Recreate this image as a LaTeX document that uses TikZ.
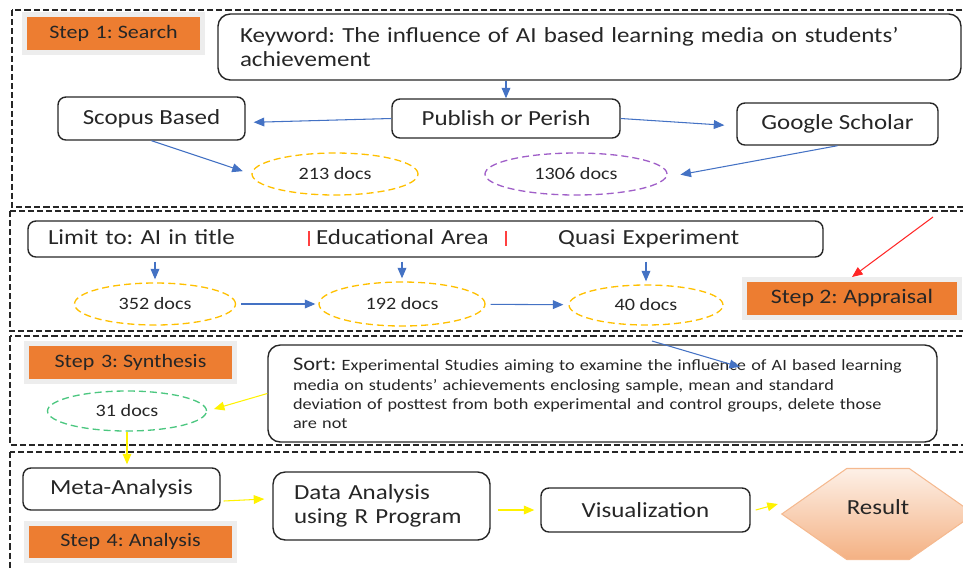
\documentclass[tikz,border=0pt]{standalone}
\usepackage{fontspec}
\setmainfont{Carlito}[FakeStretch=1.16]
\usetikzlibrary{shapes,shapes.symbols,arrows.meta,positioning,shadows}
\newlength\px
\setlength\px{0.02cm}
\definecolor{stepOrange}{HTML}{ED7D31}
\definecolor{arrowBlue}{HTML}{4472C4}
\definecolor{docGold}{HTML}{FFC000}
\definecolor{docPurple}{HTML}{A05FC8}
\definecolor{docGreen}{HTML}{4CC780}
\definecolor{resTop}{HTML}{FDF0E7}
\definecolor{resBot}{HTML}{F4B183}
\definecolor{shadowTan}{HTML}{C9A58C}
\newcommand{\redbar}{\textcolor{red!75}{\rule[-0.5pt]{1.2pt}{8.5pt}}}
\frenchspacing

\begin{document}
\begin{tikzpicture}[x=0.02cm, y=-0.02cm,
            box/.style={rectangle, draw=black!85, line width=0.8pt, rounded corners=4.5pt, inner sep=0pt, text=black!85, font=\fontsize{12.25}{13.6}\selectfont},
            docs/.style={ellipse, dashed, dash pattern=on 4pt off 2.3pt, line width=0.75pt, inner sep=0pt, text=black!85, font=\fontsize{9.9}{12}\selectfont},
            stepbox/.style={rectangle, fill=stepOrange, draw=black!7, line width=5\px, text=black!85, font=\fontsize{10.8}{12}\selectfont, drop shadow={shadow xshift=1pt, shadow yshift=-1.5pt, fill=shadowTan, opacity=1}},
            frame/.style={draw=black!85, dash pattern=on 3.5pt off 1.7pt, line width=0.6pt},
            arrow/.style={-{Triangle[length=6pt,width=5pt]}, arrowBlue, line width=0.6pt},
            yarrow/.style={-{Triangle[length=6pt,width=5pt]}, yellow, line width=0.6pt},
            redarrow/.style={-{Triangle[length=6pt,width=5pt]}, red!85, line width=0.6pt}
        ]
            \useasboundingbox (0,0) rectangle (963,569);

            % Section frames
            \draw[frame] (12,10) rectangle (980,207);
            \draw[frame] (10,211) rectangle (980,331);
            \draw[frame] (10,336) rectangle (980,445);
            \draw[frame] (10,452) rectangle (980,590);

            % Step 1: search
            \node[stepbox, minimum width=178\px, minimum height=38\px] (step1) at (113.5,33) {Step\hspace{0.35em}1: Search};
            \node[box, rounded corners=7pt, minimum width=743\px, minimum height=66\px, text width=699\px, align=left] (keyword) at (589.5,47) {Keyword: The influence of AI based learning media on students'\\achievement};
            \node[box, minimum width=187\px, minimum height=43\px] (scopus) at (151.5,118.5) {Scopus Based};
            \node[box, minimum width=228\px, minimum height=39\px] (publish) at (506,118.5) {Publish or Perish};
            \node[box, minimum width=201\px, minimum height=42\px] (google) at (837.5,124) {Google Scholar};
            \node[docs, draw=docGold, minimum width=166\px, minimum height=42\px] (d213) at (335,174) {213 docs};
            \node[docs, draw=docPurple, minimum width=182\px, minimum height=42\px] (d1306) at (576,174) {1306 docs};

            \draw[arrow] (publish.north |- keyword.south) -- (publish.north);
            \draw[arrow, shorten >=8\px] (publish.west) -- ([yshift=-4\px]scopus.east);
            \draw[arrow, shorten >=12\px] (publish.east) -- ([yshift=-2\px]google.west);
            \draw[arrow, shorten >=9\px] (scopus.south) -- (d213.west);
            \draw[arrow, shorten >=13\px] (google.south) -- ([yshift=-3\px]d1306.east);

            % Step 2: appraisal
            \node[box, minimum width=795\px, minimum height=36\px, text width=755\px, align=left] (limit) at (425.5,239) {\makebox[260\px][l]{Limit to: AI in title}\redbar\hspace{6\px}\makebox[189\px][l]{Educational Area}\redbar\hspace{51\px}Quasi Experiment};
            \node[docs, draw=docGold, minimum width=161\px, minimum height=42\px] (d352) at (155,304) {352 docs};
            \node[docs, draw=docGold, minimum width=166\px, minimum height=44\px] (d192) at (402,304) {192 docs};
            \node[docs, draw=docGold, minimum width=154\px, minimum height=40\px] (d40) at (646,305) {40 docs};
            \node[stepbox, font=\fontsize{11.7}{13}\selectfont, minimum width=215\px, minimum height=38\px] (step2) at (852,298.5) {Step 2: Appraisal};

            \foreach \d in {d352,d192,d40}
                \draw[arrow, shorten <=4\px, shorten >=3\px] (\d.north |- limit.south) -- (\d.north);
            \draw[arrow, shorten <=5\px, shorten >=3\px] (d352) -- (d192);
            \draw[arrow, shorten <=5\px, shorten >=5\px] (d192) -- (d40);
            \coordinate (redtail) at (933,217);
            \draw[redarrow] (redtail) -- (step2.north);

            % Step 3: synthesis
            \node[stepbox, minimum width=208\px, minimum height=38\px] (step3) at (130.5,362) {Step\hspace{0.35em}3: Synthesis};
            \node[box, rounded corners=7pt, minimum width=669\px, minimum height=97\px, text width=619\px, align=left, font=\fontsize{8.95}{11}\selectfont] (sort) at (602.5,393.5) {{\fontsize{11}{11}\selectfont Sort:} Experimental Studies aiming to examine the influence of AI based learning\\media on students' achievements enclosing sample, mean and standard\\deviation of posttest from both experimental and control groups, delete those\\are not};
            \node[docs, draw=docGreen, minimum width=159\px, minimum height=40\px] (d31) at (127,411) {31 docs};

            \draw[yarrow, shorten >=7\px] (sort.west) -- (d31.east);
            \coordinate (sorttail) at (652,341);
            \coordinate (sorthead) at (740,367);
            \draw[arrow] (sorttail) -- (sorthead);

            % Step 4: analysis
            \node[box, minimum width=197\px, minimum height=42\px] (meta) at (121.5,489) {Meta-Analysis};
            \node[stepbox, minimum width=208\px, minimum height=37\px] (step4) at (130.5,541.5) {Step\hspace{0.35em}4: Analysis};
            \node[box, rounded corners=7pt, minimum width=217\px, minimum height=68\px, text width=175\px, align=left] (data) at (381.5,506) {Data Analysis\\using R Program};
            \node[box, minimum width=209\px, minimum height=44\px] (vis) at (645.5,510) {Visualization};
            \node[signal, signal to=west and east, signal pointer angle=70, minimum width=186\px, minimum height=91\px, inner sep=0pt, draw=resBot!90, line width=0.6pt, top color=resTop, bottom color=resBot, text=black!85, font=\fontsize{12.25}{13.6}\selectfont] (result) at (878,514) {\raisebox{7\px}[\height][\depth]{Result}};

            \draw[yarrow, shorten >=3\px] (d31.south) -- (d31.south |- meta.north);
            \draw[yarrow] ([xshift=3\px,yshift=-12\px]meta.east) -- ([xshift=-8\px,yshift=7\px]data.west);
            \draw[yarrow, shorten <=7\px, shorten >=6\px] (data.east |- vis.west) -- (vis.west);
            \draw[yarrow] ([xshift=5\px]vis.east) -- ([xshift=-3\px,yshift=10\px]result.west);
        \end{tikzpicture}
\end{document}
